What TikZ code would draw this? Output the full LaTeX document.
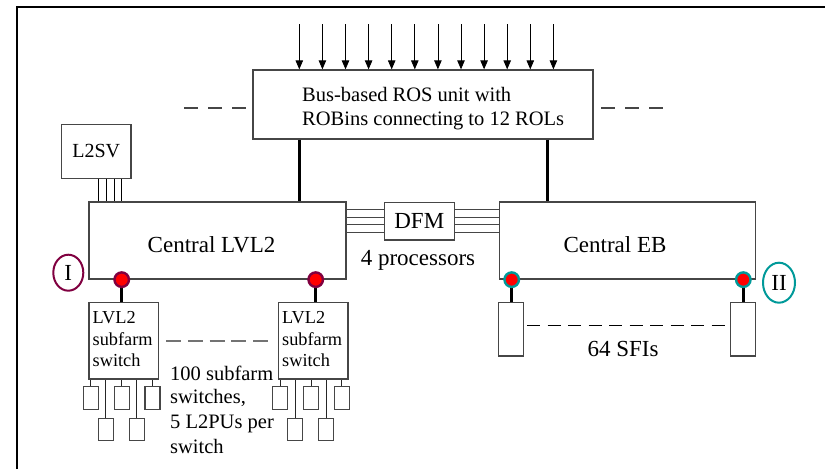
\documentclass[tikz,border=0pt]{standalone}
\usepackage{fontspec}
\setmainfont{Liberation Serif}
\usetikzlibrary{arrows.meta,shapes.geometric,calc}
\definecolor{maroonc}{RGB}{128,0,64}
\definecolor{tealc}{RGB}{0,153,153}
\definecolor{boxc}{RGB}{70,70,70}
\newcommand\fbig{\fontsize{23}{27}\selectfont}
\newcommand\fros{\fontsize{20.5}{24}\selectfont}
\newcommand\fsv{\fontsize{20}{24}\selectfont}
\newcommand\fsub{\fontsize{18.3}{21}\selectfont}
\begin{document}
\begin{tikzpicture}[x=1pt,y=-1pt,
  blk/.style 2 args={draw=boxc,line width=1.3pt,minimum width=#1,minimum height=#2,inner sep=0pt},
  txt/.style={inner sep=0pt,anchor=base},
  txtl/.style={inner sep=0pt,anchor=base west},
  heavy/.style={line width=3pt},
  link/.style={draw=black!85,line width=0.9pt},
  reddot/.style={circle,fill=red,draw=#1,line width=2.4pt,minimum size=14.5pt,inner sep=0pt},
  ring/.style={ellipse,draw=#1,line width=2pt,inner sep=0pt,font=\fbig}
]
\useasboundingbox (0,0) rectangle (825,469);
\draw[line width=2pt] (17,469) -- (17,7) -- (825,7);

% ROS unit
\node[blk={340pt}{69pt}] (ros) at (423,104.5) {};
\foreach \i in {0,...,11} {
  \coordinate (in\i) at ({299.3+23.1*\i},24);
  \draw[line width=0.8pt,-{Triangle[length=9pt,width=7.5pt]}] (in\i) -- (in\i |- ros.north);
}
\node[txtl,font=\fros] (rost1) at (302,101) {Bus-based ROS unit with};
\node[txtl,font=\fros] (rost2) at (302,125) {ROBins connecting to 12 ROLs};
\coordinate (dl1) at (184,108); \coordinate (dl2) at (246,108);
\coordinate (dr1) at (601,108); \coordinate (dr2) at (663,108);
\draw[boxc,line width=1.3pt,dash pattern=on 14pt off 10pt] (dl1) -- (dl2);
\draw[boxc,line width=1.3pt,dash pattern=on 14pt off 10pt] (dr1) -- (dr2);

% L2SV
\node[blk={69.7pt}{53.6pt},font=\fsv] (l2sv) at (96.2,151.5) {L2SV};

% Central boxes
\node[blk={257pt}{77pt}] (lvl2) at (217.5,240.5) {};
\node[blk={256.5pt}{77pt}] (eb) at (627.5,240.5) {};
\node[blk={70pt}{37.7pt},font=\fbig] (dfm) at (419.3,221.2) {DFM};
\node[txt,font=\fbig] (lvl2t) at (211.5,252) {Central LVL2};
\node[txt,font=\fbig] (ebt) at (615,252) {Central EB};
\node[txt,font=\fbig] (proc) at (418,265) {4 processors};

% L2SV links
\foreach \x [count=\k] in {98.7,106,114,121.3} {
  \coordinate (v\k) at (\x,0);
  \draw[line width=0.8pt] (l2sv.south -| v\k) -- (lvl2.north -| v\k);
}
% DFM links
\foreach \y [count=\k] in {209.5,217,224.5,232} {
  \coordinate (h\k) at (0,\y);
  \draw[boxc,line width=0.9pt] (lvl2.east |- h\k) -- (dfm.west |- h\k);
  \draw[boxc,line width=0.9pt] (dfm.east |- h\k) -- (eb.west |- h\k);
}
% ROS links
\coordinate (va) at (299.5,0); \coordinate (vb) at (547,0);
\draw[heavy] (ros.south -| va) -- (lvl2.north -| va);
\draw[heavy] (ros.south -| vb) -- (eb.north -| vb);

% subfarm switches
\node[blk={69.3pt}{76.7pt}] (sw1) at (123.7,340.7) {};
\node[blk={69.3pt}{76.7pt}] (sw2) at (313.3,340.7) {};
\foreach \s/\tx in {1/92.5,2/282} {
  \node[txtl,font=\fsub] (swa\s) at (\tx,323) {LVL2};
  \node[txtl,font=\fsub] (swb\s) at (\tx,345) {subfarm};
  \node[txtl,font=\fsub] (swc\s) at (\tx,366) {switch};
}
\coordinate (sd1) at (166,340.7); \coordinate (sd2) at (268,340.7);
\draw[black!55,line width=2pt,dash pattern=on 15pt off 6.75pt] (sd1) -- (sd2);
\node[txtl,font=\fros] (n1) at (170,380) {100 subfarm};
\node[txtl,font=\fros] (n2) at (170,403.5) {switches,};
\node[txtl,font=\fros] (n3) at (170,428) {5 L2PUs per};
\node[txtl,font=\fros] (n4) at (170,453) {switch};

% L2PUs
\foreach \s/\dx in {1/0,2/189.3} {
  \foreach \j/\cx in {1/90.8,2/121.8,3/152.5} {
    \node[blk={15pt}{23.3pt},line width=1.1pt] (pu\s\j) at ({\cx+\dx},397.7) {};
    \draw[link] (pu\s\j.north) -- (pu\s\j.north |- sw\s.south);
  }
  \foreach \j/\cx in {4/105.8,5/136.8} {
    \node[blk={15pt}{22.4pt},line width=1.1pt] (pu\s\j) at ({\cx+\dx},429.5) {};
    \draw[link] (pu\s\j.north) -- (pu\s\j.north |- sw\s.south);
  }
}

% SFIs
\node[blk={25pt}{53.7pt}] (sfi1) at (510.8,329.2) {};
\node[blk={25pt}{53.7pt}] (sfi2) at (743.2,329.2) {};
\coordinate (fd1) at (527,325.7); \coordinate (fd2) at (725,325.7);
\draw[black,line width=1.1pt,dash pattern=on 13pt off 7.5pt] (fd1) -- (fd2);
\node[txt,font=\fbig] (sfit) at (623,356) {64 SFIs};

% dots and connections
\foreach \x [count=\k] in {121.7,315.7,511.7,743.3} {
  \coordinate (vx\k) at (\x,0);
  \coordinate (d\k) at (lvl2.south -| vx\k);
}
\draw[heavy] (d1) -- (sw1.north -| d1);
\draw[heavy] (d2) -- (sw2.north -| d2);
\draw[heavy] (d3) -- (sfi1.north -| d3);
\draw[heavy] (d4) -- (sfi2.north -| d4);
\node[reddot=maroonc] (dot1) at (d1) {};
\node[reddot=maroonc] (dot2) at (d2) {};
\node[reddot=tealc] (dot3) at (d3) {};
\node[reddot=tealc] (dot4) at (d4) {};

% ring labels
\node[ring=maroonc,minimum width=30pt,minimum height=36pt] (r1) at (68.3,272.7) {I};
\node[ring=tealc,minimum width=32pt,minimum height=40pt] (r2) at (779,282.7) {II};
\end{tikzpicture}
\end{document}
